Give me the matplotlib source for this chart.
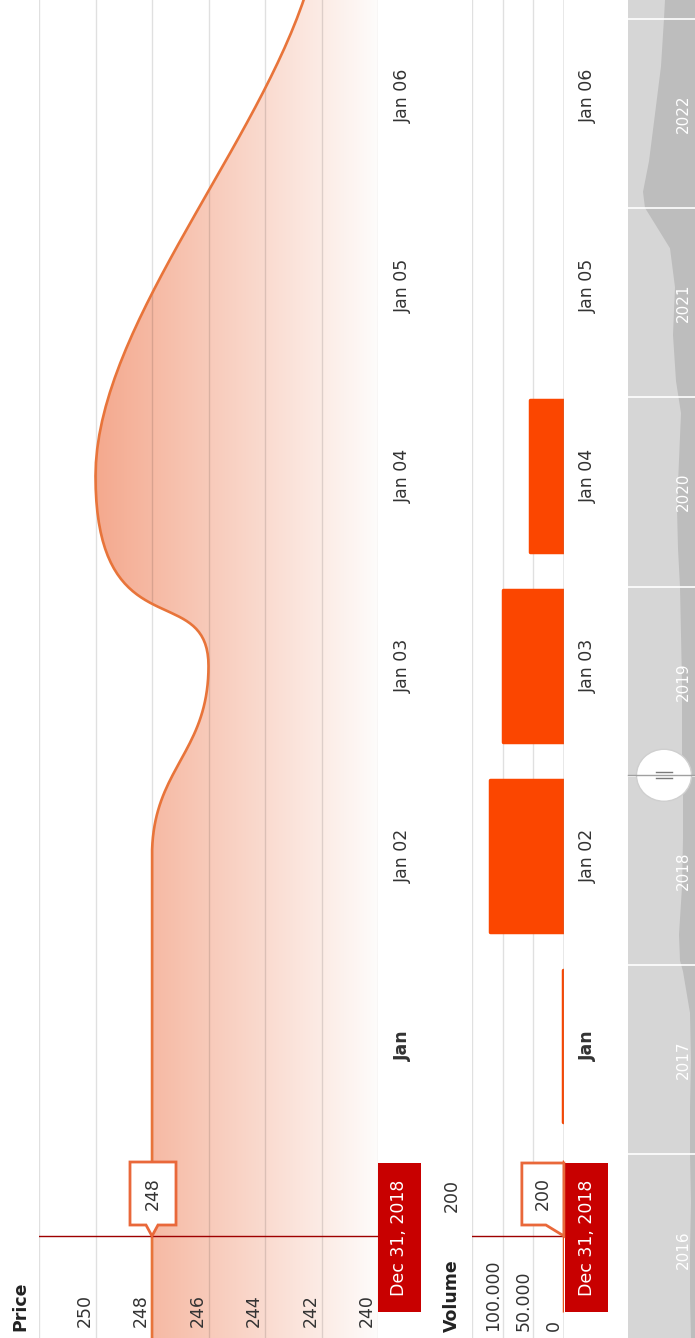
import numpy as np
import matplotlib
matplotlib.use("Agg")
import matplotlib.pyplot as plt
import matplotlib.dates as mdates
import matplotlib.transforms as mtransforms
from matplotlib.patches import Polygon, Rectangle, Ellipse
from matplotlib.lines import Line2D

plt.rcParams['font.family'] = ['DejaVu Sans']

W, H = 695, 1338

# daily closes around the turn of the year (trading days)
price_dates = ["2018-12-28", "2018-12-31", "2019-01-01", "2019-01-02", "2019-01-03",
               "2019-01-04", "2019-01-07", "2019-01-08"]
price_values = [248, 248, 248, 248, 246, 250, 242, 242]

volume_dates = ["2018-12-31", "2019-01-01", "2019-01-02", "2019-01-03", "2019-01-04"]
volume_values = [200, 2000, 121000, 100000, 56000]

tick_dates = ["2019-01-01", "2019-01-02", "2019-01-03", "2019-01-04", "2019-01-05", "2019-01-06"]
tick_labels = ["Jan", "Jan 02", "Jan 03", "Jan 04", "Jan 05", "Jan 06"]

price_grid = [240, 242, 244, 246, 248, 250, 252]
price_labels = [240, 242, 244, 246, 248, 250]
volume_grid = [50000, 100000, 150000]
volume_labels = {0: "0", 50000: "50.000", 100000: "100.000"}

hover_date = "2018-12-31"

# navigator history
nav_dates = ["2016-01-13", "2016-04-01", "2016-07-01", "2016-10-01", "2017-01-01",
             "2017-04-01", "2017-07-01", "2017-10-01", "2017-12-20", "2018-01-10",
             "2018-03-01", "2018-06-01", "2018-09-01", "2018-12-01", "2019-01-01",
             "2019-04-01", "2019-07-01", "2019-10-01", "2020-01-01", "2020-03-15",
             "2020-06-01", "2020-09-01", "2020-12-01", "2021-02-01", "2021-05-01",
             "2021-08-01", "2021-10-15", "2021-12-01", "2022-01-01", "2022-02-01",
             "2022-04-01", "2022-07-01", "2022-10-01", "2023-01-01", "2023-02-06"]
nav_values = [203, 208, 208, 203, 208, 208, 203, 208, 243, 258,
              263, 248, 243, 243, 248, 248, 248, 253, 258, 268,
              273, 263, 253, 278, 293, 283, 308, 383, 433, 443,
              413, 383, 353, 338, 333]
nav_years = ["2016", "2017", "2018", "2019", "2020", "2021", "2022"]


def to_num(dates):
    return mdates.date2num(np.array(dates, dtype="datetime64[D]"))


def tension_curve(xs, ys, tension_x=0.77, tension_y=1.0, steps=40):
    # cubic segments with tension smoothing; tension_y=1 keeps flat tangents at each point
    kx = 1 - tension_x + 1e-5
    ky = 1 - tension_y + 1e-5
    n = len(xs)
    s = np.linspace(0, 1, steps)[:, None]
    segs = []
    for i in range(n - 1):
        i0 = i - 1 if i > 0 else i
        i3 = i + 2 if i < n - 2 else i + 1
        p0 = np.array([xs[i0], ys[i0]])
        p1 = np.array([xs[i], ys[i]])
        p2 = np.array([xs[i + 1], ys[i + 1]])
        p3 = np.array([xs[i3], ys[i3]])
        ca = p1 + np.array([kx, ky]) * (p2 - p0)
        cb = p2 - np.array([kx, ky]) * (p3 - p1)
        seg = (1 - s) ** 3 * p1 + 3 * (1 - s) ** 2 * s * ca + 3 * (1 - s) * s ** 2 * cb + s ** 3 * p2
        segs.append(seg if i == 0 else seg[1:])
    out = np.vstack(segs)
    return out[:, 0], out[:, 1]


pt = to_num(price_dates)
vt = to_num(volume_dates)
tt = to_num(tick_dates)
nt = to_num(nav_dates)
t_hover = to_num([hover_date])[0]

# time runs bottom -> top, 190 px per day, hover day at y=1236
day_px = 190.0
t_top = t_hover + 1236 / day_px
t_bot = t_hover - (H - 1236) / day_px

fig = plt.figure(figsize=(W / 100, H / 100), dpi=100)
fig.patch.set_facecolor("white")
pxT = mtransforms.Affine2D().scale(1 / W, -1 / H).translate(0, 1) + fig.transFigure


def axes_px(x0, x1):
    ax = fig.add_axes([x0 / W, 0, (x1 - x0) / W, 1])
    ax.set_axis_off()
    ax.set_ylim(t_bot, t_top)
    return ax


def to_img(ax, x, y):
    dx, dy = ax.transData.transform((x, y))
    return dx, H - dy


grid_c = (0, 0, 0, 0.12)

# ---- price panel ----
axp = axes_px(39, 378)
axp.set_xlim(252, 240)
for g in price_grid:
    axp.axvline(g, color=grid_c, lw=1, zorder=3)

cx, cy = tension_curve(pt, np.array(price_values, dtype=float))
poly = Polygon(np.column_stack([np.r_[cy, 240, 240], np.r_[cx, cx[-1], cx[0]]]),
               closed=True, facecolor="none", edgecolor="none")
axp.add_patch(poly)
top_c = np.array([242, 152, 120]) / 255
bot_c = np.array([254, 252, 251]) / 255
frac = np.linspace(0, 1, 256)[:, None]
grad = (top_c * (1 - frac) + bot_c * frac)[None, :, :]
im = axp.imshow(grad, extent=[252, 240, t_bot, t_top], aspect="auto", zorder=2,
                interpolation="bilinear")
im.set_clip_path(poly)
axp.plot(cy, cx, color="#e8743a", lw=1.9, zorder=4, solid_capstyle="round")
axp.axhline(t_hover, color="#9e0000", lw=1, zorder=5)

# ---- volume panel ----
axv = axes_px(472, 564)
axv.set_xlim(150000, 0)
for g in volume_grid:
    axv.axvline(g, color=grid_c, lw=1, zorder=1)
bars = axv.barh(vt, volume_values, height=0.8, left=0, color="#fb4600",
                edgecolor="#fb4600", lw=2.5, zorder=3)
for b in bars:
    b.set_joinstyle("round")
axv.axvline(0, color="#8c8c8c", lw=1, zorder=4)
axv.axhline(t_hover, color="#9e0000", lw=1, zorder=5)

# ---- navigator ----
axn = axes_px(628, 695)
axn.set_xlim(518, 183)
nav_t0 = to_num(["2016-01-13"])[0]
nav_t1 = to_num(["2023-02-06"])[0]
axn.set_ylim(nav_t0, nav_t1)
axn.add_patch(Rectangle((518, nav_t0), 183 - 518, nav_t1 - nav_t0, facecolor="#d6d6d6",
                        edgecolor="none", zorder=0))
axn.fill_betweenx(nt, 183, nav_values, color="#bdbdbd", lw=0, zorder=1)
nav_blend = mtransforms.blended_transform_factory(axn.transAxes, axn.transData)
for yr in nav_years:
    ys = to_num([f"{int(yr) + 1}-01-01"])[0]
    axn.axhline(ys, color="white", lw=1.2, zorder=2)
    ym = to_num([f"{yr}-07-02"])[0]
    axn.text(0.82, ym, yr, transform=nav_blend, rotation=90, ha="center", va="center",
             color="white", fontsize=11, zorder=3)
sel_mid = (pt[0] + pt[-1]) / 2
_, hy = to_img(axn, 400, sel_mid)
fig.add_artist(Line2D([628, 695], [hy, hy], transform=pxT, color="#a0a0a0", lw=1))
fig.add_artist(Ellipse((664, hy), 55, 52, transform=pxT, facecolor="white",
                       edgecolor="#cfcfcf", lw=1))
for dy in (-3, 3):
    fig.add_artist(Line2D([656, 672], [hy + dy, hy + dy], transform=pxT, color="#7a7a7a", lw=1))

# ---- labels ----
fs = 12.5
txt = dict(rotation=90, color="#333333", fontsize=fs)
for p in price_labels:
    x, _ = to_img(axp, p, t_hover)
    fig.text(x - 11, 1327, str(p), transform=pxT, ha="center", va="bottom", **txt)
fig.text(20, 1331, "Price", transform=pxT, ha="center", va="bottom", rotation=90,
         color="#222222", fontsize=fs, fontweight="bold")
for v, lab in volume_labels.items():
    x, _ = to_img(axv, v, t_hover)
    fig.text(x - 10, 1331, lab, transform=pxT, ha="center", va="bottom", **txt)
fig.text(452, 1332, "Volume", transform=pxT, ha="center", va="bottom", rotation=90,
         color="#222222", fontsize=fs, fontweight="bold")
fig.text(452, 1196, str(volume_values[0]), transform=pxT, ha="center", va="center", **txt)

for t, lab in zip(tt, tick_labels):
    _, y = to_img(axp, 245, t)
    w = "bold" if lab == "Jan" else "normal"
    for x in (403, 588):
        fig.text(x, y, lab, transform=pxT, ha="center", va="center", fontweight=w, **txt)

# date labels on the crosshair
hover_label = np.datetime64(hover_date).astype(object).strftime("%b %d, %Y")
for x0 in (378, 565):
    fig.add_artist(Rectangle((x0, 1163), 43, 149, transform=pxT, facecolor="#c80000",
                             edgecolor="none"))
    fig.text(x0 + 21.5, 1237.5, hover_label, transform=pxT, ha="center", va="center",
             rotation=90, color="white", fontsize=fs)

# tooltip callouts
hv = price_values[price_dates.index(hover_date)]
tx, ty = to_img(axp, hv, t_hover)
shape = [(-22, -74), (24, -74), (24, -11), (6, -11), (0, 0), (-6, -11), (-22, -11)]
fig.add_artist(Polygon([(tx + a, ty + b) for a, b in shape], closed=True, transform=pxT,
                       facecolor="white", edgecolor="#e9683a", lw=2, joinstyle="miter"))
fig.text(tx + 1, ty - 42, str(hv), transform=pxT, ha="center", va="center", **txt)

vv = volume_values[volume_dates.index(hover_date)]
vx, vy = to_img(axv, vv, t_hover)
shape = [(-42, -73), (0, -73), (0, 0), (-18, -11), (-42, -11)]
fig.add_artist(Polygon([(vx + a, vy + b) for a, b in shape], closed=True, transform=pxT,
                       facecolor="white", edgecolor="#e9683a", lw=2, joinstyle="miter"))
fig.text(vx - 21, vy - 42, str(vv), transform=pxT, ha="center", va="center", **txt)

fig.savefig("out.png", dpi=100)
